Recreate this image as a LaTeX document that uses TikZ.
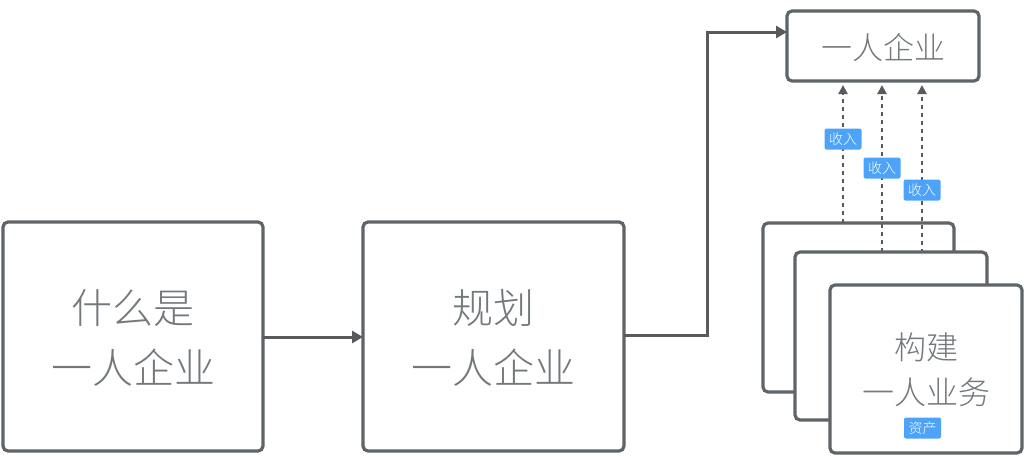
\documentclass[tikz,border=0pt]{standalone}
\usepackage{fontspec}
\setmainfont{Noto Sans CJK SC Light}
\usetikzlibrary{arrows.meta}
\definecolor{bordergray}{HTML}{5F6469}
\definecolor{textgray}{HTML}{73787D}
\definecolor{arrowgray}{HTML}{595A5C}
\definecolor{tagblue}{HTML}{4DA3F7}
\tikzset{
  card/.style={draw=bordergray, line width=3.2pt, rounded corners=5pt, fill=white},
  cardtext/.style={text=textgray, align=center},
  flow/.style={draw=arrowgray, line width=3pt, -{Triangle[length=11pt,width=12pt]}},
  income/.style={draw=arrowgray, line width=2.6pt, dash pattern=on 4pt off 4pt, -{Triangle[length=9pt,width=9pt]}},
  tag/.style={fill=tagblue, rounded corners=2pt, text=white, font=\fontsize{14}{16}\selectfont, minimum width=37pt, minimum height=21pt, inner sep=0pt},
}
\begin{document}
\begin{tikzpicture}[x=1pt,y=-1pt]
\useasboundingbox (0,0) rectangle (1024,456);
% main boxes
\path[card] (3,222) rectangle (263,451);
\coordinate (b1r) at (263,337);
\node[cardtext, font=\fontsize{41}{60}\selectfont] (t1) at (133,338) {什么是\\一人企业};
\path[card] (363,222) rectangle (624,451);
\coordinate (b2l) at (363,337);
\coordinate (b2r) at (624,335);
\node[cardtext, font=\fontsize{41}{60}\selectfont] (t2) at (493.5,338) {规划\\一人企业};
% top box
\path[card] (787,11) rectangle (979,81);
\coordinate (topl) at (787,32);
\node[cardtext, font=\fontsize{31}{36}\selectfont] (t3) at (883,47) {一人企业};
\coordinate (c1) at (843,85);
\coordinate (c2) at (882,85);
\coordinate (c3) at (922,85);
% connectors
\draw[flow] (b1r) -- (b2l);
\coordinate (k1) at (707,335);
\coordinate (k2) at (707,32);
\draw[flow] (b2r) -- (k1) -- (k2) -- (topl);
% stacked boxes
\path[card] (763,223) rectangle (954,392);
\coordinate (a1) at (843,223);
\draw[income] (a1) -- (c1);
\coordinate (a2) at (882,252);
\draw[income] (a2) -- (c2);
\coordinate (a3) at (922,285);
\draw[income] (a3) -- (c3);
\path[card] (795,252) rectangle (987,420);
\path[card] (830,285) rectangle (1022,453);
\node[cardtext, font=\fontsize{32}{45}\selectfont] (t4) at (926,370) {构建\\一人业务};
% tags
\node[tag] (g1) at (843,139) {收入};
\node[tag] (g2) at (882,168) {收入};
\node[tag] (g3) at (922,190) {收入};
\node[tag] (g4) at (922.5,428) {资产};
\end{tikzpicture}
\end{document}
